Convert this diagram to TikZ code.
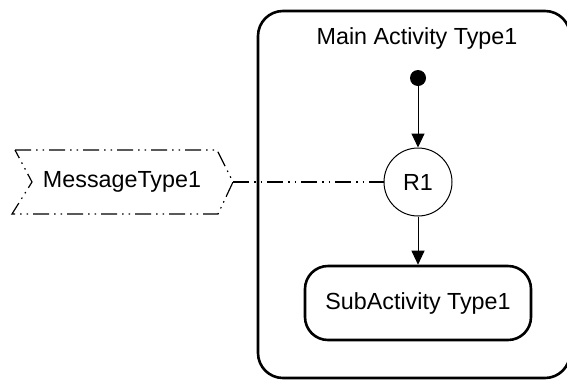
\documentclass[tikz,border=0pt]{standalone}
\usepackage{fontspec}
\setmainfont{Liberation Sans}
\usetikzlibrary{arrows.meta}
\begin{document}
\begin{tikzpicture}[x=1pt,y=-1pt,
  every node/.style={font=\fontsize{23.3}{28}\selectfont, inner sep=0pt},
  thin line/.style={line width=1pt},
  flow/.style={thin line, -{Triangle[width=13pt,length=14pt]}},
  dashdotdot/.style={line width=1.2pt, dash pattern=on 16pt off 5pt on 1.5pt off 5pt on 1.5pt off 5pt},
  activity/.style={draw, line width=2.6pt, rounded corners=23pt}]
\useasboundingbox (0,0) rectangle (567,381);
\clip (0,0) rectangle (567,381);

% enclosing activity (its right side runs past the page edge)
\draw[activity, rounded corners=25pt] (258,11) rectangle (570,378);
\node (title) at (417,38) {Main Activity Type1};

% initial state
\fill (418,78) circle (8pt);
\coordinate (start) at (418,86);

% decision node
\node[draw, thin line, circle, minimum size=68pt] (r1) at (418,182) {R1};

% sub activity
\node[activity, minimum width=226pt, minimum height=74pt] (sub) at (418,303) {SubActivity Type1};

% message shape
\coordinate (m1) at (15,150);
\coordinate (m2) at (217,150);
\coordinate (mr) at (233,182);
\coordinate (m3) at (218,214);
\coordinate (m4) at (12,214);
\coordinate (ml) at (32,182);
\draw[dashdotdot] (m1) -- (m2) -- (mr) -- (m3) -- (m4) -- (ml) -- cycle;
\node (msg) at (122,182) {MessageType1};

% connectors
\draw[flow] (start) -- (r1.north);
\draw[flow] (r1.south) -- (sub.north);
\draw[dashdotdot] (mr) -- (r1.west);
\end{tikzpicture}
\end{document}
